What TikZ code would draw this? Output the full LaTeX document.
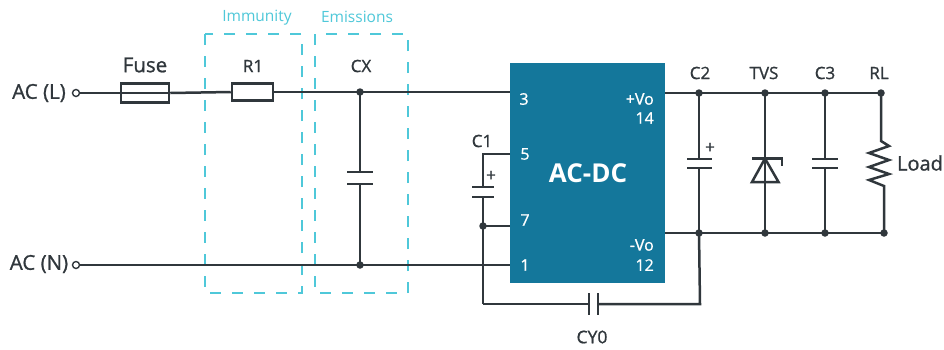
\documentclass[tikz,border=0pt]{standalone}
\usepackage{fontspec}
\setmainfont{Open Sans}
\newfontfamily\medf[FakeBold=1]{Open Sans}
\definecolor{wirec}{HTML}{30373C}
\definecolor{chipc}{HTML}{14779B}
\definecolor{cyanc}{HTML}{4FC8D9}
\newcommand{\fs}[1]{\fontsize{#1}{#1}\selectfont}
\tikzset{
  wire/.style={draw=wirec,line width=2.5pt},
  part/.style={draw=wirec,line width=2.5pt,fill=white,inner sep=0pt,minimum height=17pt},
  dot/.style={circle,fill=wirec,inner sep=0pt,minimum size=7.5pt},
  term/.style={circle,draw=wirec,line width=1.4pt,fill=white,inner sep=0pt,minimum size=7pt},
  lab/.style={text=wirec,inner sep=0pt},
  pinlab/.style={text=white,inner sep=0pt,font=\medf\fs{16}},
  zone/.style={draw=cyanc,line width=2pt,dash pattern=on 11pt off 11pt},
  zonelab/.style={text=cyanc,inner sep=0pt,font=\fs{15.5}},
}
\begin{document}
\begin{tikzpicture}[x=1pt,y=-1pt]
\useasboundingbox (0,0) rectangle (944,349);
\fill[white] (0,0) rectangle (944,349);
% zones
\draw[zone] (205,34) rectangle (302,293);
\draw[zone] (315,34) rectangle (408,293);
\node[zonelab] (immunity) at (257,18) {Immunity};
\node[zonelab] (emissions) at (357,17) {Emissions};
% chip
\node[draw=none,fill=chipc,minimum width=155pt,minimum height=220pt,inner sep=0pt] (chip) at (587.5,173) {};
\node[text=white,inner sep=0pt,font=\fs{26}\bfseries] (chiplab) at (588,173) {AC-DC};
\coordinate (p3) at (510,92);
\coordinate (p5) at (510,154);
\coordinate (p7) at (510,226);
\coordinate (p1) at (510,265);
\coordinate (pvp) at (665,93);
\coordinate (pvm) at (665,233);
\node[pinlab] (l3) at (524,99) {3};
\node[pinlab] (l5) at (525,154) {5};
\node[pinlab] (l7) at (525,220) {7};
\node[pinlab] (l1) at (525,265) {1};
\node[pinlab,anchor=east] (lvp) at (654,99) {+Vo};
\node[pinlab,anchor=east] (l14) at (654,118) {14};
\node[pinlab,anchor=east] (lvm) at (654,245) {-Vo};
\node[pinlab,anchor=east] (l12) at (654,265) {12};
% terminals and junctions
\node[term] (acl) at (76,93) {};
\node[term] (acn) at (76,265) {};
\node[dot] (jx1) at (360,92) {};
\node[dot] (jx2) at (360,265) {};
\node[dot] (j7) at (483,226) {};
\node[dot] (t2) at (699,93) {};
\node[dot] (tt) at (765,93) {};
\node[dot] (t3) at (825,93) {};
\node[dot] (tl) at (881,93) {};
\node[dot] (b2) at (699,233) {};
\node[dot] (bt) at (765,233) {};
\node[dot] (b3) at (825,233) {};
\node[dot] (bl) at (884,233) {};
% series line
\node[part,minimum width=48pt,minimum height=19pt] (fuse) at (145,93) {};
\node[part,minimum width=41pt] (r1) at (252.5,92) {};
\draw[wire] (acl) -- (fuse.west);
\draw[wire] (fuse.west) -- (fuse.east);
\draw[wire] (fuse.east) -- (r1.west);
\draw[wire] (r1.east) -- (jx1.center);
\draw[wire] (jx1.center) -- (p3);
\draw[wire] (acn) -- (jx2.center) -- (p1);
% CX
\coordinate (cxa) at (360,172);
\coordinate (cxb) at (360,184);
\draw[wire] (jx1.center) -- (cxa);
\draw[wire] (cxb) -- (jx2.center);
\draw[wire] (347,172) -- (373,172);
\draw[wire] (347,184) -- (373,184);
% C1
\coordinate (c1a) at (483,187);
\coordinate (c1b) at (483,197);
\coordinate (cy1) at (483,304);
\draw[wire,line join=miter] (p5) -- (483,154) -- (c1a);
\draw[wire] (472,187) -- (494,187);
\draw[wire] (472,197) -- (494,197);
\draw[wire] (c1b) -- (j7.center);
\draw[wire] (j7.center) -- (p7);
\draw[wire] (j7.center) -- (cy1);
% CY0
\coordinate (cyl) at (589,304);
\coordinate (cyr) at (598,304);
\coordinate (cy2) at (700,304);
\draw[wire] (cy1) -- (cyl);
\draw[wire] (cyr) -- (cy2) -- (b2.center);
\draw[wire] (589,293) -- (589,315);
\draw[wire] (598,293) -- (598,315);
% rails
\draw[wire] (pvp) -- (t2.center) -- (tt.center) -- (t3.center) -- (tl.center);
\draw[wire] (pvm) -- (b2.center) -- (bt.center) -- (b3.center) -- (bl.center);
% C2
\draw[wire] (t2.center) -- (699,159);
\draw[wire] (699,168) -- (b2.center);
\draw[wire] (687,159) -- (712,159);
\draw[wire] (687,168) -- (712,168);
% TVS
\draw[wire] (tt.center) -- (bt.center);
\draw[wire,line join=miter] (752,158.5) -- (782,158.5) -- (782,166);
\draw[wire,line join=miter] (765,158.5) -- (752,182) -- (778.5,182) -- cycle;
% C3
\draw[wire] (t3.center) -- (825,159);
\draw[wire] (825,168) -- (b3.center);
\draw[wire] (812,159) -- (838,159);
\draw[wire] (812,168) -- (838,168);
% Load
\draw[wire,line join=miter] (tl.center) -- (881,141) -- (889,146) -- (869,153) -- (889,160) -- (869,167) -- (889,174) -- (869,180) -- (884,186) -- (bl.center);
% labels
\node[lab,font=\medf\fs{20.5}] (lfuse) at (145,65) {Fuse};
\node[lab,font=\medf\fs{17}] (lr1) at (253,66) {R1};
\node[lab,font=\medf\fs{17}] (lcx) at (361,66) {CX};
\node[lab,font=\medf\fs{20.5}] (lacl) at (39,93) {AC (L)};
\node[lab,font=\medf\fs{20.5}] (lacn) at (39,264) {AC (N)};
\node[lab,font=\medf\fs{17}] (lc1) at (482,141) {C1};
\node[lab,font=\medf\fs{17}] (lp1) at (491,176) {+};
\node[lab,font=\medf\fs{17}] (lp2) at (710,148) {+};
\node[lab,font=\medf\fs{17}] (lc2) at (700,73) {C2};
\node[lab,font=\medf\fs{17}] (ltvs) at (764,73) {TVS};
\node[lab,font=\medf\fs{17}] (lc3) at (825,73) {C3};
\node[lab,font=\medf\fs{17}] (lrl) at (879,73) {RL};
\node[lab,font=\medf\fs{20}] (lload) at (920,163) {Load};
\node[lab,font=\medf\fs{17.5}] (lcy) at (592,337) {CY0};
\end{tikzpicture}
\end{document}
